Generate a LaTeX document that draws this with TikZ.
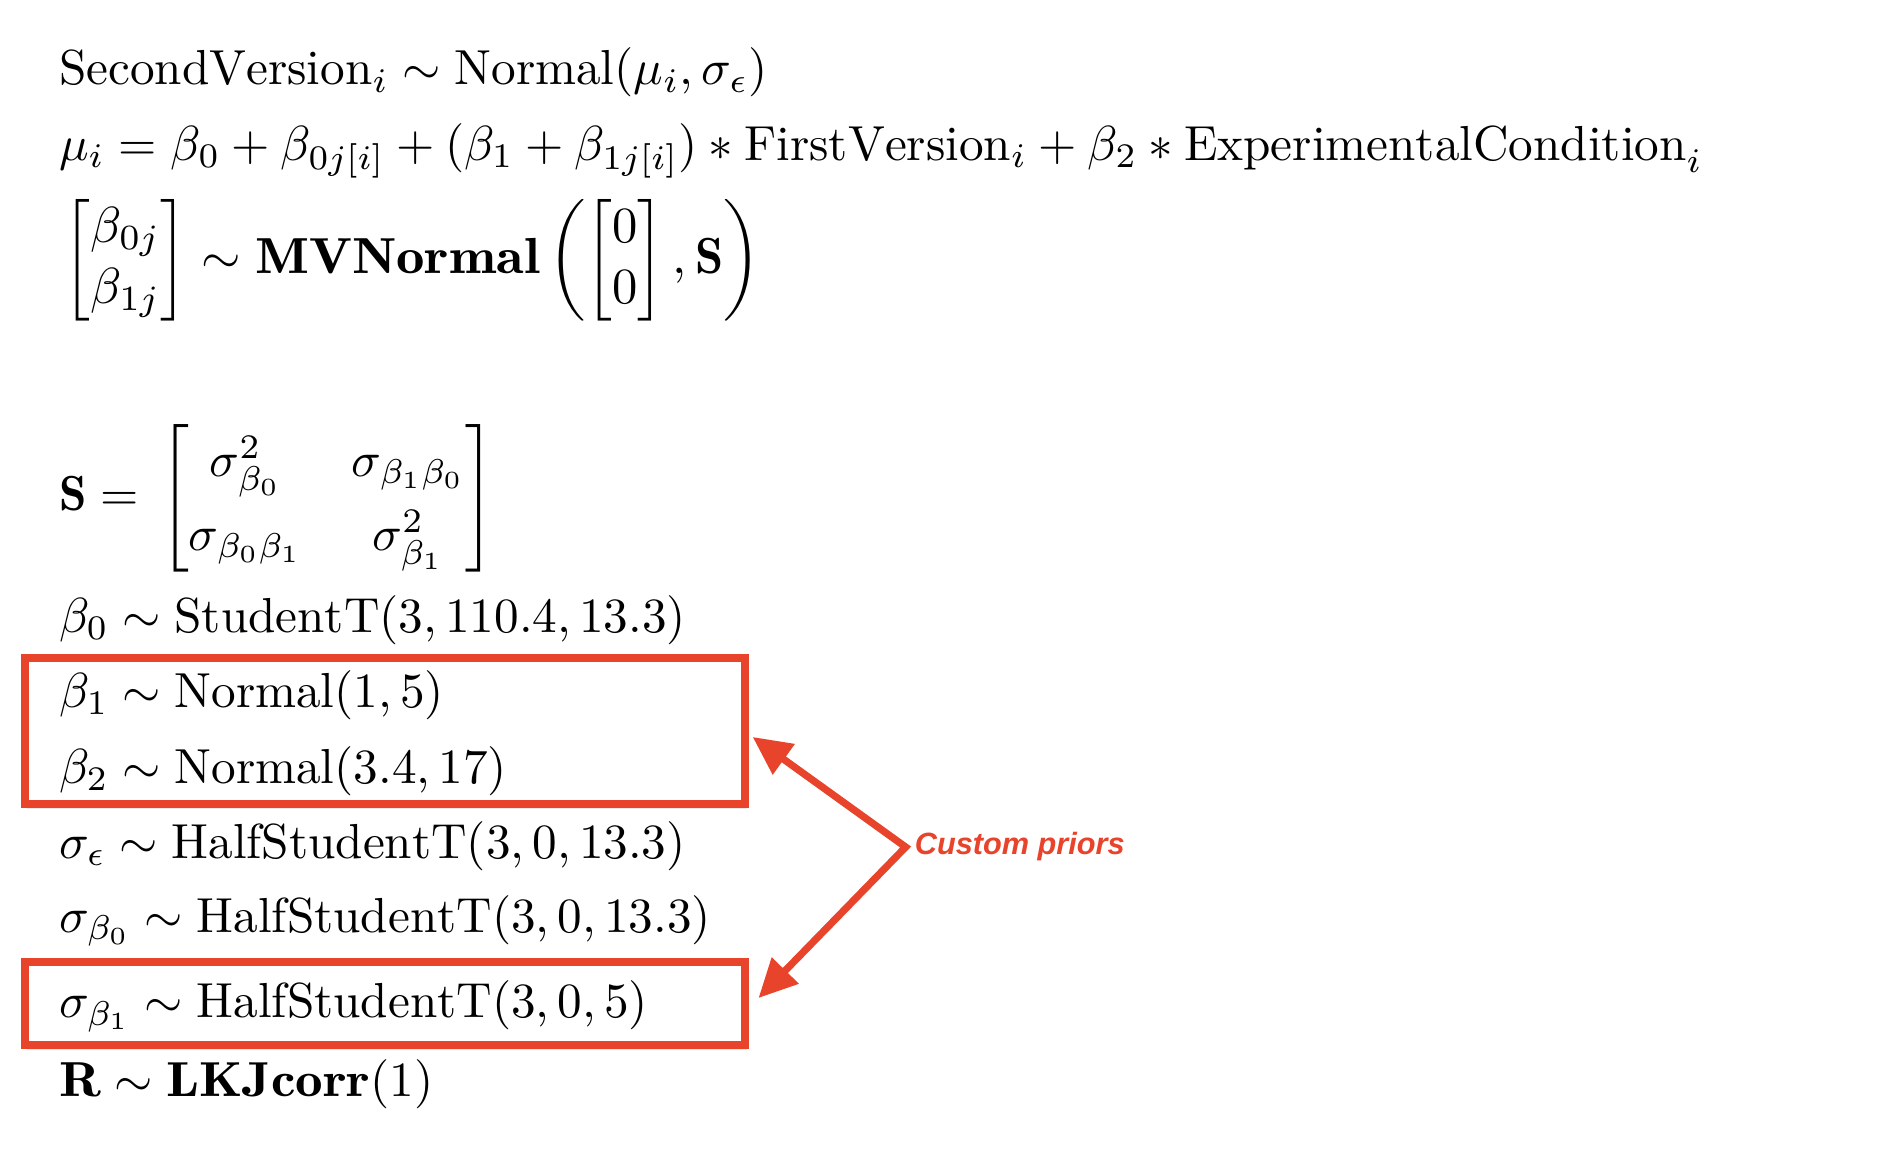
\documentclass[tikz,border=0pt]{standalone}
\usepackage{amsmath}
\usepackage{graphicx}
\usepackage{fontspec}
\newfontfamily\labelfont{Liberation Sans}
\usetikzlibrary{arrows.meta, shadows}
\definecolor{priorred}{RGB}{232,67,43}
\newcommand{\wideb}[1]{\scalebox{1.12}[1]{$\mathbf{#1}$}}

\begin{document}
\begin{tikzpicture}[
    eqn/.style={anchor=base west, inner sep=0pt, scale=1.025},
    priorbox/.style={draw=priorred, line width=1.5pt, fill=white, inner sep=0pt,
        minimum width=5.271cm, drop shadow={opacity=0.18, shadow xshift=0.4pt, shadow yshift=-1pt}},
    priorarrow/.style={draw=priorred, line width=1.5pt, line join=miter,
        {Triangle[length=8pt, width=7.5pt]}-{Triangle[length=8pt, width=7.5pt]}}]
    \useasboundingbox (0,0) rectangle (13.88,-8.49);

    % Boxes round the custom priors
    \node[priorbox, minimum height=1.069cm] (box1) at (2.818,-5.351) {};
    \node[priorbox, minimum height=0.608cm] (box2) at (2.818,-7.346) {};

    % Likelihood and linear model
    \node[eqn] (like) at (0.425,-0.62) {$\mathrm{SecondVersion}_i \sim \mathrm{Normal}(\mu_i, \sigma_\epsilon)$};
    \node[eqn] (mu) at (0.425,-1.175) {$\mu_i = \beta_0 + \beta_{0j[i]} + (\beta_1 + \beta_{1j[i]}) * \mathrm{FirstVersion}_i + \beta_2 * \mathrm{ExperimentalCondition}_i$};
    \node[eqn, scale=1.03] (mvn) at (0.46,-2.0) {$\begin{bmatrix}\beta_{0j}\\ \beta_{1j}\end{bmatrix} \sim \wideb{MVNormal}\left(\begin{bmatrix}0\\ 0\end{bmatrix}, \mathbf{S}\right)$};

    % Covariance matrix
    \node[eqn] (cov) at (0.425,-3.74) {$\mathbf{S} = \,\renewcommand{\arraystretch}{1.25}\begin{bmatrix}\sigma^2_{\beta_0} & \sigma_{\beta_1\beta_0}\\ \sigma_{\beta_0\beta_1} & \sigma^2_{\beta_1}\end{bmatrix}$};

    % Priors
    \node[eqn] (b0) at (0.425,-4.63) {$\beta_0 \sim \mathrm{StudentT}(3, 110.4, 13.3)$};
    \node[eqn] (b1) at (0.425,-5.18) {$\beta_1 \sim \mathrm{Normal}(1, 5)$};
    \node[eqn] (b2) at (0.425,-5.735) {$\beta_2 \sim \mathrm{Normal}(3.4, 17)$};
    \node[eqn] (se) at (0.425,-6.285) {$\sigma_\epsilon \sim \mathrm{HalfStudentT}(3, 0, 13.3)$};
    \node[eqn] (sb0) at (0.425,-6.825) {$\sigma_{\beta_0} \sim \mathrm{HalfStudentT}(3, 0, 13.3)$};
    \node[eqn] (sb1) at (0.425,-7.45) {$\sigma_{\beta_1} \sim \mathrm{HalfStudentT}(3, 0, 5)$};
    \node[eqn] (corr) at (0.425,-8.03) {$\wideb{R} \sim \wideb{LKJcorr}(1)$};

    % Label and arrows
    \node[anchor=base west, inner sep=0pt, text=priorred,
        font=\labelfont\bfseries\itshape\fontsize{6.4}{7}\selectfont] (prior) at (6.69,-6.259) {Custom priors};
    \coordinate (fork) at ([xshift=-0.06cm]prior.west);
    \draw[priorarrow] ([xshift=0.03cm, yshift=-0.044cm]box1.east) -- (fork)
        -- ([xshift=0.073cm, yshift=0.04cm]box2.east);
\end{tikzpicture}
\end{document}
